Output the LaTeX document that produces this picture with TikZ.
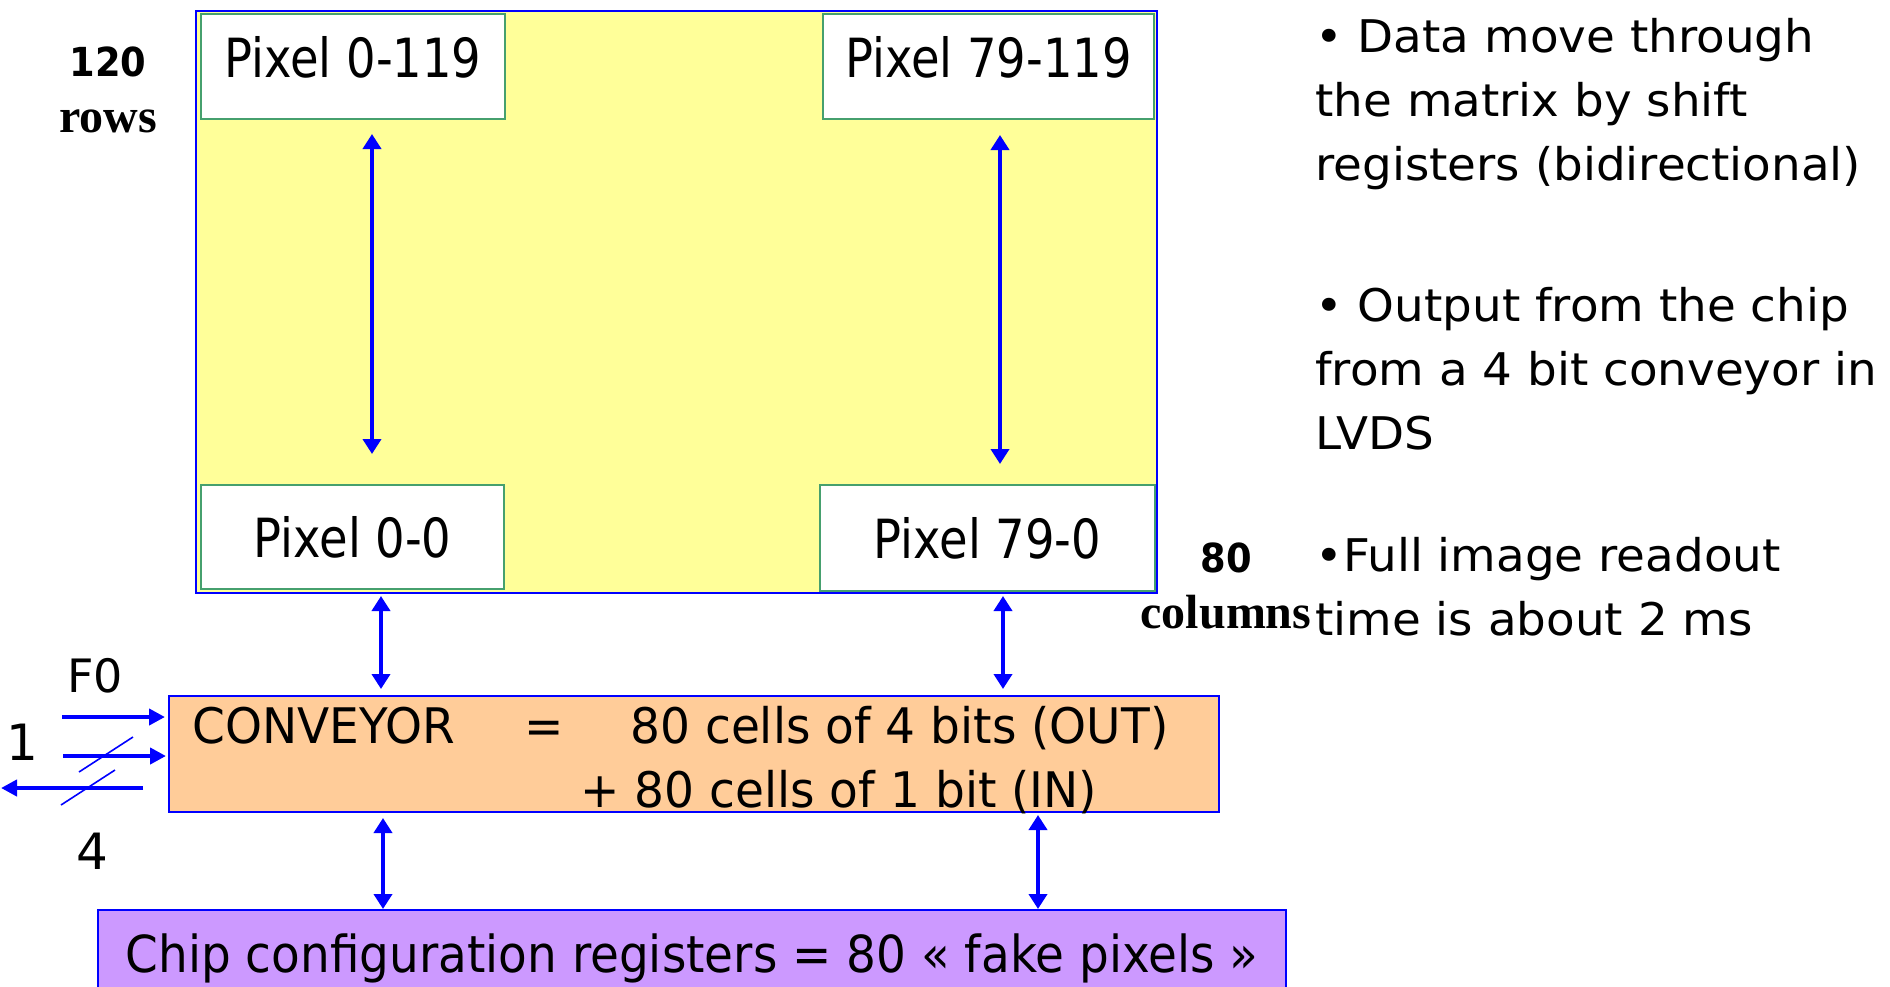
\documentclass[tikz,border=0pt]{standalone}
\usepackage{fontspec}
\setmainfont{DejaVu Sans}
\newfontfamily\pixfont[FakeStretch=0.86]{DejaVu Sans}
\newfontfamily\boxfont[FakeStretch=0.96]{DejaVu Sans}
\newfontfamily\cfgfont[FakeStretch=0.92]{DejaVu Sans}
\newfontfamily\notefont[FakeStretch=1.04]{DejaVu Sans}
\newfontfamily\numfont[FakeStretch=0.92]{DejaVu Sans}
\newfontfamily\dimfont{Liberation Serif}
\usetikzlibrary{arrows.meta,positioning,calc}
\definecolor{lineblue}{RGB}{0,0,255}
\definecolor{pixgreen}{RGB}{70,160,110}
\definecolor{matyellow}{RGB}{255,255,153}
\definecolor{convpeach}{RGB}{255,204,153}
\definecolor{cfglilac}{RGB}{204,153,255}
\newcommand{\dimnum}[1]{{\numfont\bfseries\fontsize{20}{28}\selectfont #1}}

\begin{document}
\begin{tikzpicture}[
  x=0.5pt, y=-0.5pt,
  pix/.style={draw=pixgreen, line width=1pt, fill=white, inner sep=0pt,
              font=\pixfont\fontsize{27}{32}\selectfont},
  pixtop/.style={pix, anchor=north, text height=31.5pt, text depth=21pt},
  pixbot/.style={pix},
  blk/.style={draw=lineblue, line width=1pt, inner sep=0pt},
  ctxt/.style={font=\boxfont\fontsize{24.5}{29}\selectfont, inner sep=0pt,
               anchor=base west},
  note/.style={font=\notefont\fontsize{22.5}{32}\selectfont, align=left,
               inner sep=0pt, anchor=base west},
  dim/.style={font=\dimfont\bfseries\fontsize{24}{28}\selectfont,
              align=center, inner sep=0pt, anchor=base},
  sig/.style={font=\fontsize{25}{30}\selectfont, inner sep=0pt, anchor=base},
  e/.style={lineblue, line width=2pt,
            {Triangle[length=7.5pt,width=9pt]}-{Triangle[length=7.5pt,width=9pt]}},
  io/.style={lineblue, line width=2pt, -{Triangle[length=8pt,width=8pt]}},
  bus/.style={lineblue, line width=0.8pt}]

\useasboundingbox (0,0) rectangle (1890,986);
\clip (0,0) rectangle (1890,986);

% pixel matrix, 80 x 120
\node[blk, fill=matyellow, minimum width=480.5pt, minimum height=291pt]
      (mat) at (676.5,302) {};
\node[pixtop, minimum width=152pt] (p0top) at (353,13) {Pixel 0-119};
\node[pixtop, minimum width=165.5pt] (p79top) at (988.5,13) {Pixel 79-119};
\node[pixbot, minimum width=151.5pt, minimum height=52pt]
      (p0bot) at (352.5,537) {Pixel 0-0};
\node[pixbot, minimum width=167.5pt, minimum height=53pt]
      (p79bot) at (987.5,538) {Pixel 79-0};

% base anchor of a two-line node sits on its last line
\node[dim] (rows) at (108,132) {\dimnum{120}\\rows};
\node[dim] (cols) at (1226,628) {\dimnum{80}\\columns};

% conveyor and configuration registers
\node[blk, fill=convpeach, minimum width=525pt, minimum height=58pt]
      (cv) at (694,754) {};
\node[ctxt] (cvname) at (192,743) {CONVEYOR};
\node[ctxt, anchor=base] (cveq) at (544,743) {=};
\node[ctxt] (cvout) at (630,743) {80 cells of 4 bits (OUT)};
\node[ctxt] (cvin) at (580,807) {+ 80 cells of 1 bit (IN)};

\node[blk, fill=cfglilac, anchor=north, minimum width=594pt,
      text height=31pt, text depth=20pt,
      font=\cfgfont\fontsize{25.5}{30}\selectfont]
      (cfg) at (692,909) {Chip configuration registers = 80 « fake pixels »};

% columns of the vertical links
\coordinate (c1) at (372,0);
\coordinate (c2) at (381,0);
\coordinate (c3) at (383,0);
\coordinate (c4) at (1000,0);
\coordinate (c5) at (1003,0);
\coordinate (c6) at (1038,0);

\draw[e, shorten <=7pt, shorten >=15pt] (c1 |- p0top.south) -- (c1 |- p0bot.north);
\draw[e, shorten <=7.5pt, shorten >=10pt] (c4 |- p79top.south) -- (c4 |- p79bot.north);
\draw[e, shorten <=1pt, shorten >=3pt] (c2 |- mat.south) -- (c2 |- cv.north);
\draw[e, shorten <=1pt, shorten >=3pt] (c5 |- mat.south) -- (c5 |- cv.north);
\draw[e, shorten <=2.5pt] (c3 |- cv.south) -- (c3 |- cfg.north);
\draw[e, shorten <=1pt] (c6 |- cv.south) -- (c6 |- cfg.north);

% serial lines on the left
\coordinate (f0) at (62,717);
\coordinate (bin) at (63,756);
\coordinate (bout) at (1,788);
\draw[io, shorten >=1.5pt] (f0) -- (f0 -| cv.west);
\draw[io, shorten >=1pt] (bin) -- (bin -| cv.west);
\draw[io, shorten <=12.5pt] (bout -| cv.west) -- (bout);
\draw[bus] (79,772) -- (133,737);
\draw[bus] (61,805) -- (115,770);

\node[sig, font=\fontsize{23}{27}\selectfont] (lf0) at (95,692) {F0};
\node[sig] (l1) at (22,760) {1};
\node[sig] (l4) at (92,869) {4};

% notes
\node[note] (n1) at (1315,180)
      {• Data move through\\the matrix by shift\\registers (bidirectional)};
\node[note] (n2) at (1315,449)
      {• Output from the chip\\from a 4 bit conveyor in\\LVDS};
\node[note] (n3) at (1315,635)
      {•Full image readout\\time is about 2 ms};

\end{tikzpicture}
\end{document}
